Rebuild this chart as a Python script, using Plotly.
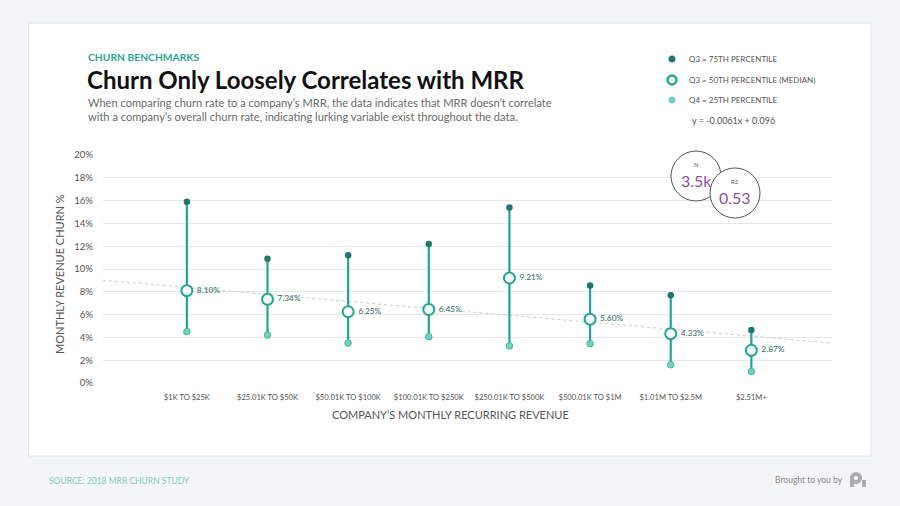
import plotly.graph_objects as go

# ---------------- data ----------------
categories = ["$1K TO $25K", "$25.01K TO $50K", "$50.01K TO $100K", "$100.01K TO $250K",
              "$250.01K TO $500K", "$500.01K TO $1M", "$1.01M TO $2.5M", "$2.51M+"]
q75 = [15.9, 10.9, 11.2, 12.2, 15.4, 8.55, 7.7, 4.65]
median = [8.10, 7.34, 6.25, 6.45, 9.21, 5.60, 4.33, 2.87]
q25 = [4.5, 4.2, 3.5, 4.05, 3.25, 3.45, 1.6, 1.0]
y_ticks = [0, 2, 4, 6, 8, 10, 12, 14, 16, 18, 20]
trend_slope = -0.0061
trend_intercept = 0.096
n_value = "3.5k"
r2_value = "0.53"

# ---------------- layout geometry ----------------
W, H = 900, 506
L, R, T, B = 103, 832, 155, 383
FONT = "Lato"

def px(x):
    return (x - L) / (R - L)

def py(y):
    return (B - y) / (B - T)

xs = list(range(1, len(categories) + 1))
x_range = [-0.04, 9.0]

TEAL = "#1aaa8f"
DARK = "#1d7a67"
LIGHT = "#6fd4bb"

fig = go.Figure()

# trend line
tx = [x_range[0], x_range[1]]
ty = [100 * (trend_intercept + trend_slope * (v + 1)) for v in tx]
fig.add_trace(go.Scatter(x=tx, y=ty, mode="lines",
                         line=dict(color="#cccccc", width=1, dash="dot"),
                         hoverinfo="skip", showlegend=False))

# stems
sx, sy = [], []
for x, lo, hi in zip(xs, q25, q75):
    sx += [x, x, None]
    sy += [lo, hi, None]
fig.add_trace(go.Scatter(x=sx, y=sy, mode="lines", line=dict(color=TEAL, width=2.2),
                         hoverinfo="skip", showlegend=False))

fig.add_trace(go.Scatter(x=xs, y=q75, mode="markers",
                         marker=dict(size=6.5, color=DARK, line=dict(width=0)),
                         showlegend=False))
fig.add_trace(go.Scatter(x=xs, y=q25, mode="markers",
                         marker=dict(size=6.5, color=LIGHT, line=dict(width=1, color="#3db99c")),
                         showlegend=False))
fig.add_trace(go.Scatter(x=xs, y=median, mode="markers+text",
                         marker=dict(size=11, color="white", line=dict(width=2, color=TEAL)),
                         text=[" %.2f%%" % v for v in median], textposition="middle right",
                         textfont=dict(family=FONT, size=8.3, color="#2b6e5f"),
                         showlegend=False))

shapes = []
annotations = []

def note(x, y, text, size, color, xanchor="center", **kw):
    annotations.append(dict(xref="paper", yref="paper", x=px(x), y=py(y), xanchor=xanchor, yanchor="middle",
                            text=text, showarrow=False, font=dict(family=FONT, size=size, color=color), **kw))

# card
shapes.append(dict(type="rect", xref="paper", yref="paper", layer="below",
                   x0=px(28.5), x1=px(871), y0=py(456), y1=py(23),
                   fillcolor="white", line=dict(color="#e2e4e7", width=1)))

# header texts
note(86, 57, "<b>CHURN BENCHMARKS</b>", 10.3, "#1fa88d", xanchor="left")
note(85, 79, "<b>Churn Only Loosely Correlates with MRR</b>", 24, "#111111", xanchor="left")
note(86, 110, "When comparing churn rate to a company\u2019s MRR, the data indicates that MRR doesn\u2019t correlate"
              "<br>with a company\u2019s overall churn rate, indicating lurking variable exist throughout the data.",
     11.1, "#6a6a6a", xanchor="left", align="left")

# legend
leg_items = [("Q3 = 75TH PERCENTILE", 59), ("Q3 = 50TH PERCENTILE (MEDIAN)", 80), ("Q4 = 25TH PERCENTILE", 100)]
for txt, yy in leg_items:
    note(687, yy, txt, 8, "#555555", xanchor="left")

def circ(cx, cy, r, fill, line_color, lw):
    return dict(type="circle", xref="paper", yref="paper", xsizemode="pixel", ysizemode="pixel",
                xanchor=px(cx), yanchor=py(cy), x0=-r, x1=r, y0=-r, y1=r,
                fillcolor=fill, line=dict(color=line_color, width=lw))

shapes.append(circ(672, 59, 3.5, DARK, DARK, 0))
shapes.append(circ(672, 80, 4.5, "white", TEAL, 2.5))
shapes.append(circ(672, 100, 3.5, LIGHT, LIGHT, 0))

note(690, 120, "y = %.4fx + %.3f" % (trend_slope, trend_intercept), 9, "#555555", xanchor="left")

# N / R2 circles
shapes.append(circ(696, 176, 25, "white", "#555555", 1))
shapes.append(circ(735, 193, 25, "white", "#555555", 1))
note(696, 164, "N", 6, "#555555")
note(696, 180, n_value, 16, "#8d4f9f")
note(735, 181, "R2", 6, "#555555")
note(735, 197, r2_value, 16, "#8d4f9f")

# axis titles
note(59, 274, "MONTHLY REVENUE CHURN %", 11, "#555555", textangle=-90)
note(450, 414, "COMPANY\u2019S MONTHLY RECURRING REVENUE", 11, "#555555")

# footer
note(47, 481, "SOURCE: 2018 MRR CHURN STUDY", 8.5, "#7fcdbb", xanchor="left")
note(845, 480, "Brought to you by", 8.5, "#8a8a8a", xanchor="right")
# logo (P shape)
shapes.append(circ(856, 478, 6, "#a9adb1", "#a9adb1", 0))
shapes.append(dict(type="rect", xref="paper", yref="paper", x0=px(850), x1=px(854), y0=py(487), y1=py(476),
                   fillcolor="#a9adb1", line=dict(width=0)))
shapes.append(dict(type="rect", xref="paper", yref="paper", x0=px(862), x1=px(866), y0=py(487), y1=py(480),
                   fillcolor="#a9adb1", line=dict(width=0)))
shapes.append(circ(856, 478, 2, "white", "white", 0))

fig.update_layout(
    width=W, height=H,
    margin=dict(l=L, r=W - R, t=T, b=H - B),
    paper_bgcolor="#f4f5f7", plot_bgcolor="rgba(0,0,0,0)",
    showlegend=False,
    shapes=shapes, annotations=annotations,
    xaxis=dict(range=x_range, tickmode="array", tickvals=xs, ticktext=categories,
               showgrid=False, zeroline=False, showline=False, ticks="",
               tickfont=dict(family=FONT, size=7.6, color="#555555"), ticklabelstandoff=8),
    yaxis=dict(range=[0, 20], tickmode="array", tickvals=y_ticks, ticktext=["%d%%" % v for v in y_ticks],
               showgrid=True, gridcolor="#e7e7e7", gridwidth=1, zeroline=False, showline=False, ticks="",
               tickfont=dict(family=FONT, size=9.6, color="#555555"), ticklabelstandoff=9),
)

fig.write_html("out.html", config={"displayModeBar": False},
               post_script="document.body.style.margin='0';")
